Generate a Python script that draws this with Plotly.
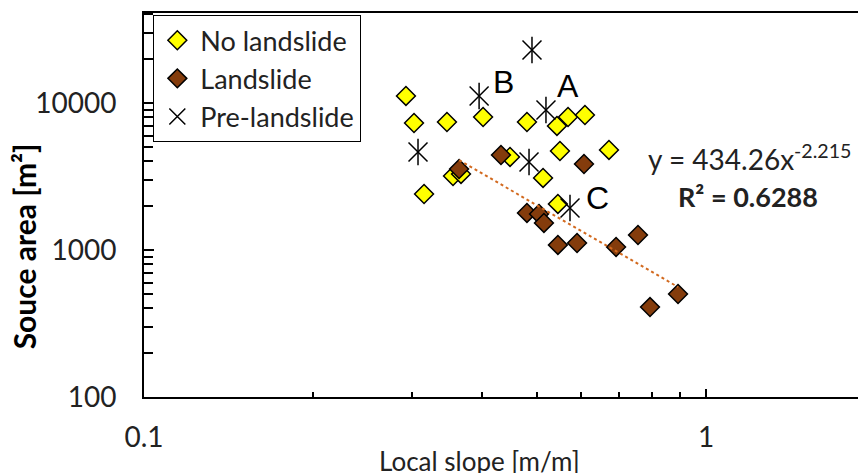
import plotly.graph_objects as go
import numpy as np

# ---- data ----
no_ls_slope = [0.2925, 0.3023, 0.3460, 0.4012, 0.4802, 0.5430, 0.5682, 0.6090,
               0.5497, 0.6720, 0.5129, 0.4480, 0.3547, 0.3665, 0.3150, 0.5451]
no_ls_area = [11160, 7310, 7425, 8030, 7425, 6975, 8030, 8285,
              4715, 4790, 3090, 4293, 3187, 3289, 2404, 2056]

ls_slope = [0.3636, 0.4317, 0.6066, 0.4802, 0.5045, 0.5148, 0.5451, 0.5896,
            0.6918, 0.7568, 0.8917, 0.7950]
ls_area = [3556, 4426, 3846, 1786, 1758, 1527, 1082, 1116,
           1048, 1265, 502, 409]

pre_slope = [0.3073, 0.3947, 0.4902, 0.5191, 0.4843, 0.5728]
pre_area = [4642, 11160, 22930, 8963, 3968, 1931]
pre_labels = ["", "B", "", "A", "", "C"]

fit_coef = 434.26
fit_exp = -2.215
fit_r2 = 0.6288

x_tickvals = [0.1, 1]
x_ticktext = ["0.1", "1"]
y_tickvals = [100, 1000, 10000]
y_ticktext = ["100", "1000", "10000"]

FONT = "Lato"
fig = go.Figure()

fig.add_trace(go.Scatter(
    x=no_ls_slope, y=no_ls_area, mode="markers", name="No landslide",
    marker=dict(symbol="diamond", size=14.5, color="#FFFF00",
                line=dict(color="black", width=1.5))))
fig.add_trace(go.Scatter(
    x=ls_slope, y=ls_area, mode="markers", name="Landslide",
    marker=dict(symbol="diamond", size=14.5, color="#843C0C",
                line=dict(color="black", width=1.5))))
fig.add_trace(go.Scatter(
    x=pre_slope, y=pre_area, mode="markers", name="Pre-landslide",
    marker=dict(symbol="x-thin-open", size=19, color="black",
                line=dict(color="black", width=1.5))))
fig.add_trace(go.Scatter(
    x=pre_slope, y=pre_area, mode="markers", showlegend=False,
    marker=dict(symbol="line-ns-open", size=19, color="black",
                line=dict(color="black", width=1.5))))

# power-law trendline over the landslide data range
xs = np.logspace(np.log10(min(ls_slope)), np.log10(max(ls_slope)), 50)
fig.add_trace(go.Scatter(
    x=xs, y=fit_coef * xs ** fit_exp, mode="lines", showlegend=False,
    line=dict(color="#D2691E", width=2, dash="dot")))

# point labels A, B, C
shifts = {"B": (24, 14), "A": (22, 24), "C": (27, 10)}
for xv, yv, lab in zip(pre_slope, pre_area, pre_labels):
    if lab:
        dx, dy = shifts[lab]
        fig.add_annotation(x=np.log10(xv), y=np.log10(yv), text=lab, showarrow=False,
                           xshift=dx, yshift=dy, xanchor="center", yanchor="middle",
                           font=dict(family="Liberation Sans", size=32, color="black"))

fig.add_annotation(xref="paper", yref="paper", x=0.839, y=0.625,
                   xanchor="center", yanchor="middle",
                   text=f"y = {fit_coef}x<sup>{fit_exp}</sup>", showarrow=False,
                   font=dict(family=FONT, size=28, color="#222"))
fig.add_annotation(xref="paper", yref="paper", x=0.8366, y=0.521,
                   xanchor="center", yanchor="middle",
                   text=f"<b>R² = {fit_r2}</b>", showarrow=False,
                   font=dict(family=FONT, size=27, color="#222"))

fig.add_annotation(xref="paper", yref="paper", x=0.465, y=-0.1667,
                   xanchor="center", yanchor="middle",
                   text="Local slope [m/m]", showarrow=False,
                   font=dict(family=FONT, size=26, color="#222"))
fig.add_annotation(xref="paper", yref="paper", x=-0.165, y=0.392,
                   xanchor="center", yanchor="middle",
                   text="<b>Souce area [m²]</b>", textangle=-90, showarrow=False,
                   font=dict(family=FONT, size=30, color="black"))

fig.update_xaxes(type="log", range=[-1, 0.2847],
                 tickvals=x_tickvals, ticktext=x_ticktext,
                 ticks="inside", ticklen=8, tickwidth=1.5, tickcolor="black",
                 minor=dict(ticks="inside", ticklen=5, tickwidth=1.5, tickcolor="black",
                            dtick="D1", showgrid=False),
                 showline=True, linecolor="black", linewidth=2, mirror=True,
                 showgrid=False, zeroline=False, ticklabelstandoff=14,
                 tickfont=dict(family=FONT, size=28, color="#222"))
fig.update_yaxes(type="log", range=[2, 4.612],
                 tickvals=y_tickvals, ticktext=y_ticktext,
                 ticks="inside", ticklen=10, tickwidth=1.5, tickcolor="black",
                 minor=dict(ticks="inside", ticklen=9, tickwidth=1.5, tickcolor="black",
                            dtick="D1", showgrid=False),
                 showline=True, linecolor="black", linewidth=2, mirror=False,
                 showgrid=False, zeroline=False, ticklabelstandoff=20,
                 tickfont=dict(family=FONT, size=28, color="#222"))

fig.update_layout(
    width=858, height=465, autosize=False,
    margin=dict(l=136, r=0, t=5, b=76),
    paper_bgcolor="white", plot_bgcolor="white",
    legend=dict(x=0.0125, y=0.995, xanchor="left", yanchor="top",
                bgcolor="white", bordercolor="black", borderwidth=1.3,
                font=dict(family=FONT, size=27, color="#222"),
                tracegroupgap=0, itemwidth=36),
    showlegend=True,
)

fig.write_html("out.html")
